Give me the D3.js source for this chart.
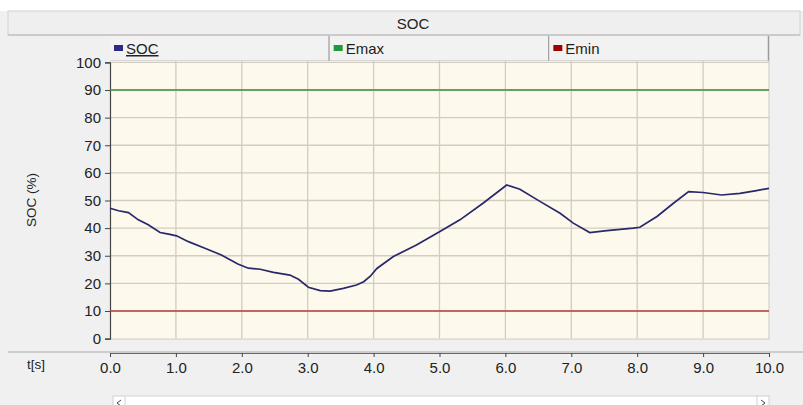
<!DOCTYPE html>
<html>
<head>
<meta charset="utf-8">
<script src="https://cdn.jsdelivr.net/npm/d3@7"></script>
<style>
  html, body { margin: 0; padding: 0; background: #ffffff; }
  svg { display: block; font-family: "Liberation Sans", Arial, sans-serif; }
</style>
</head>
<body>
<svg id="chart" width="803" height="405"></svg>
<script>
// ---- data ----
const title = "SOC";
const seriesNames = ["SOC", "Emax", "Emin"];
const seriesColors = ["#2b2b86", "#1e9a3c", "#a00000"];
const timeS = [0, 0.13, 0.28, 0.43, 0.58, 0.76, 0.89, 1.01, 1.19, 1.44, 1.69, 1.94, 2.10, 2.28, 2.48, 2.73, 2.86, 3.01, 3.19, 3.34, 3.54, 3.74, 3.85, 3.95, 4.05, 4.3, 4.65, 5.0, 5.31, 5.66, 6.02, 6.22, 6.53, 6.83, 7.03, 7.28, 7.54, 7.94, 8.04, 8.30, 8.55, 8.78, 9.0, 9.28, 9.56, 9.81, 10.0];
const socValues = [47.2, 46.3, 45.6, 43.0, 41.2, 38.4, 37.8, 37.2, 35.1, 32.7, 30.3, 27.0, 25.5, 25.1, 24.0, 23.0, 21.5, 18.6, 17.4, 17.2, 18.2, 19.4, 20.6, 22.6, 25.4, 29.7, 33.9, 38.7, 43.0, 49.0, 55.6, 54.1, 49.6, 45.4, 41.8, 38.4, 39.1, 40.0, 40.3, 44.2, 49.0, 53.2, 52.9, 52.0, 52.6, 53.6, 54.4];
const emaxValue = 90;
const eminValue = 10;
const xTicks = [0, 1, 2, 3, 4, 5, 6, 7, 8, 9, 10];
const yTicks = [0, 10, 20, 30, 40, 50, 60, 70, 80, 90, 100];
const xLabel = "t[s]";
const yLabel = "SOC (%)";

// ---- layout ----
const svg = d3.select("#chart");
const W = 803, H = 405;
const L = 110, R = 769, T = 62.4, B = 338.6;

svg.append("rect").attr("x", 0).attr("y", 11).attr("width", W).attr("height", H - 11).attr("fill", "#f0f0f0");

// title bar
svg.append("rect").attr("x", 8).attr("y", 11).attr("width", 792).attr("height", 24)
  .attr("fill", "#efefef").attr("stroke", "#d2d2d2");
svg.append("line").attr("x1", 8).attr("x2", 800).attr("y1", 35).attr("y2", 35).attr("stroke", "#b4b4b4");
svg.append("text").attr("x", 413).attr("y", 29).attr("text-anchor", "middle")
  .attr("font-size", 15).attr("fill", "#222").text(title);

const x = d3.scaleLinear().domain([0, 10]).range([L, R]);
const y = d3.scaleLinear().domain([0, 100]).range([B, T]);

// legend
const legW = (R - L) / 3;
const leg = svg.append("g");
seriesNames.forEach((n, i) => {
  const x0 = L + i * legW;
  leg.append("rect").attr("x", x0).attr("y", 36).attr("width", legW).attr("height", 25)
    .attr("fill", "#f2f2f2");
  leg.append("line").attr("x1", x0 + legW - 0.5).attr("x2", x0 + legW - 0.5).attr("y1", 36).attr("y2", 61)
    .attr("stroke", "#9a9a9a").attr("stroke-width", 1.5);
  leg.append("rect").attr("x", x0 + 4).attr("y", 45).attr("width", 9).attr("height", 6).attr("fill", seriesColors[i]);
  const t = leg.append("text").attr("x", x0 + 16).attr("y", 54).attr("font-size", 15).attr("fill", "#222").text(n);
  if (i === 0) t.attr("text-decoration", "underline");
});
svg.append("line").attr("x1", L).attr("x2", R).attr("y1", 61).attr("y2", 61).attr("stroke", "#bdbdbd");

// plot background
svg.append("rect").attr("x", L).attr("y", 61).attr("width", R - L).attr("height", B - 61 + 1)
  .attr("fill", "#fdf9ec");

// grid
const grid = svg.append("g").attr("stroke", "#d3cdbf").attr("stroke-width", 1.3);
xTicks.slice(1, -1).forEach(t => grid.append("line").attr("x1", x(t)).attr("x2", x(t)).attr("y1", 61).attr("y2", B));
yTicks.slice(1).forEach(v => grid.append("line").attr("x1", L).attr("x2", R).attr("y1", y(v)).attr("y2", y(v)));

// plot borders
svg.append("line").attr("x1", R).attr("x2", R).attr("y1", 61).attr("y2", B + 1).attr("stroke", "#c9c9c9");
svg.append("line").attr("x1", L).attr("x2", R).attr("y1", B + 0.5).attr("y2", B + 0.5).attr("stroke", "#c9c9c9");

// y axis
const yAxis = svg.append("g").attr("transform", `translate(${L},0)`)
  .call(d3.axisLeft(y).tickValues(yTicks).tickSize(5).tickPadding(4));
yAxis.select(".domain").attr("stroke", "#444").attr("stroke-width", 1.2);
yAxis.selectAll(".tick line").attr("stroke", "#444");
yAxis.selectAll(".tick text").attr("font-size", 15).attr("fill", "#222")
  .attr("font-family", "'Liberation Sans', Arial, sans-serif");

svg.append("text").attr("transform", `translate(36,200) rotate(-90)`).attr("text-anchor", "middle")
  .attr("font-size", 13.5).attr("fill", "#222").text(yLabel);

// Emax / Emin lines
svg.append("line").attr("x1", L).attr("x2", R).attr("y1", y(emaxValue)).attr("y2", y(emaxValue))
  .attr("stroke", "#3f8f3f").attr("stroke-width", 1.6);
svg.append("line").attr("x1", L).attr("x2", R).attr("y1", y(eminValue)).attr("y2", y(eminValue))
  .attr("stroke", "#b8413d").attr("stroke-width", 1.6);

// SOC line
const socData = timeS.map((t, i) => [t, socValues[i]]);
svg.append("path").datum(socData)
  .attr("fill", "none").attr("stroke", "#28286a").attr("stroke-width", 1.7)
  .attr("d", d3.line().x(d => x(d[0])).y(d => y(d[1])));

// separator
svg.append("line").attr("x1", 8).attr("x2", W).attr("y1", 352).attr("y2", 352).attr("stroke", "#a8a8a8").attr("stroke-width", 1.2);

// x axis
const xAxis = svg.append("g").attr("transform", `translate(0,353)`)
  .call(d3.axisBottom(x).tickValues(xTicks).tickFormat(d3.format(".1f")).tickSize(4).tickPadding(5));
xAxis.select(".domain").attr("stroke", "#666");
xAxis.selectAll(".tick line").attr("stroke", "#444");
xAxis.selectAll(".tick text").attr("font-size", 15).attr("fill", "#222")
  .attr("font-family", "'Liberation Sans', Arial, sans-serif");

svg.append("text").attr("x", 27).attr("y", 369).attr("font-size", 13.5).attr("fill", "#222").text(xLabel);

// scrollbar
svg.append("rect").attr("x", 113).attr("y", 396).attr("width", 656).attr("height", 12)
  .attr("fill", "#ffffff").attr("stroke", "#d0d0d0");
svg.append("line").attr("x1", 125).attr("x2", 125).attr("y1", 396).attr("y2", 405).attr("stroke", "#d0d0d0");
svg.append("line").attr("x1", 757).attr("x2", 757).attr("y1", 396).attr("y2", 405).attr("stroke", "#d0d0d0");
svg.append("path").attr("d", "M121,400 L117,403 L121,406").attr("fill", "none").attr("stroke", "#444");
svg.append("path").attr("d", "M761,400 L765,403 L761,406").attr("fill", "none").attr("stroke", "#444");
</script>
</body>
</html>
